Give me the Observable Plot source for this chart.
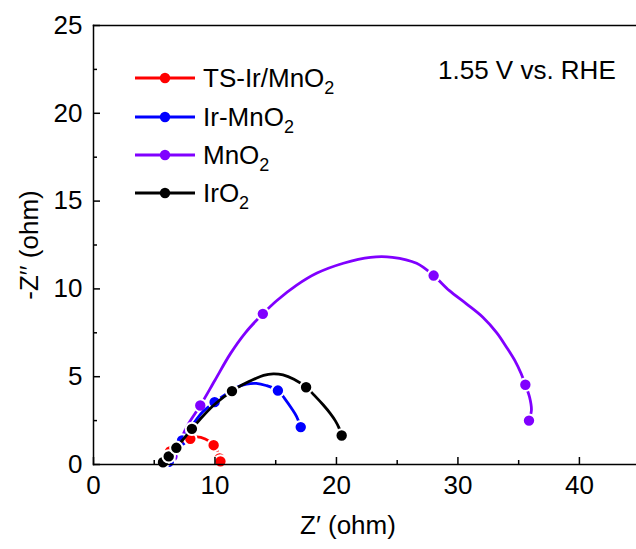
<!DOCTYPE html>
<html><head><meta charset="utf-8">
<script src="https://cdn.jsdelivr.net/npm/d3@7"></script>
<script src="https://cdn.jsdelivr.net/npm/@observablehq/plot@0.6"></script>
<style>
html,body{margin:0;padding:0;background:#fff;overflow:hidden}
#wrap{position:relative;width:636px;height:549px;font-family:"Liberation Sans",Arial,sans-serif;color:#000}
.lbl{position:absolute;white-space:nowrap;font-size:26px;line-height:1}
.lbl sub{font-size:18px;vertical-align:-7px;line-height:0}
.leg{position:absolute;left:135px;display:flex;align-items:center;height:26px}
.leg svg{margin-right:8px}
</style></head><body><div id="wrap"></div>
<script>
// series
const seriesNames = ["TS-Ir/MnO2", "Ir-MnO2", "MnO2", "IrO2"];
const seriesColors = ["#ff0000", "#0000ff", "#8000ff", "#000000"];
const annotationText = "1.55 V vs. RHE";
const xLabel = "Z\u2032 (ohm)";
const yLabel = "-Z\u2032\u2032 (ohm)";
const xTicks = [0, 10, 20, 30, 40];
const xMinorTicks = [5, 15, 25, 35];
const yTicks = [0, 5, 10, 15, 20, 25];
const yMinorTicks = [2.5, 7.5, 12.5, 17.5, 22.5];

// TS-Ir/MnO2
const tsZre = [5.95, 6.3, 6.9, 7.4, 7.97, 8.5, 9.2, 9.89, 10.2, 10.38, 10.45];
const tsZim = [0.05, 0.75, 1.15, 1.35, 1.46, 1.57, 1.45, 1.12, 0.75, 0.35, 0.18];
const tsMarkZre = [6.3, 7.97, 9.89, 10.38, 10.45];
const tsMarkZim = [0.75, 1.46, 1.1, 0.35, 0.18];
// Ir-MnO2
const irmZre = [6.0, 6.3, 6.7, 7.29, 8.2, 9.0, 9.97, 11.0, 11.8, 12.6, 13.4, 14.2, 15.18, 15.8, 16.3, 16.7, 17.06];
const irmZim = [0.0, 0.3, 0.75, 1.37, 2.3, 3.0, 3.55, 4.05, 4.4, 4.58, 4.62, 4.5, 4.21, 3.7, 3.2, 2.75, 2.13];
const irmMarkZre = [6.2, 7.29, 9.97, 15.18, 17.06];
const irmMarkZim = [0.15, 1.37, 3.55, 4.21, 2.13];
// MnO2
const mnZre = [6.1, 6.4, 6.8, 7.15, 7.8, 8.79, 10.0, 11.26, 12.5, 13.94, 15.1, 16.7, 18.4, 20.57, 22.8, 24.6, 26.6, 28.0, 29.3, 30.7, 32.05, 33.2, 34.0, 34.7, 35.2, 35.55, 35.9, 36.05, 35.85];
const mnZim = [0.0, 0.3, 0.8, 1.37, 2.3, 3.36, 4.8, 6.3, 7.5, 8.58, 9.34, 10.2, 10.9, 11.46, 11.8, 11.8, 11.46, 10.76, 9.9, 9.15, 8.39, 7.5, 6.68, 5.9, 5.18, 4.54, 3.83, 3.1, 2.5];
const mnMarkZre = [6.5, 8.79, 13.94, 28.0, 35.55, 35.85];
const mnMarkZim = [0.45, 3.36, 8.58, 10.76, 4.54, 2.5];
// IrO2
const iroZre = [5.72, 6.19, 6.82, 7.4, 8.1, 9.0, 10.1, 11.4, 12.3, 13.2, 14.0, 14.8, 15.6, 16.5, 17.5, 18.3, 18.9, 19.5, 19.9, 20.2, 20.43];
const iroZim = [0.13, 0.46, 0.95, 1.45, 2.03, 2.75, 3.5, 4.18, 4.55, 4.85, 5.08, 5.16, 5.1, 4.85, 4.4, 3.85, 3.4, 2.9, 2.5, 2.1, 1.65];
const iroMarkZre = [5.72, 6.19, 6.82, 8.1, 11.4, 17.5, 20.43];
const iroMarkZim = [0.13, 0.46, 0.95, 2.03, 4.18, 4.4, 1.65];

const lineSets = [[tsZre, tsZim], [irmZre, irmZim], [mnZre, mnZim], [iroZre, iroZim]];
const markSets = [[tsMarkZre, tsMarkZim], [irmMarkZre, irmMarkZim], [mnMarkZre, mnMarkZim], [iroMarkZre, iroMarkZim]];
const drawOrder = [2, 1, 0, 3];

const marks = [];
for (const i of drawOrder) {
  const [xs, ys] = lineSets[i];
  const line = xs.map((x, k) => ({x, y: ys[k]}));
  const [mx, my] = markSets[i];
  const pts = mx.map((x, k) => ({x, y: my[k]}));
  marks.push(Plot.line(line, {x: "x", y: "y", stroke: seriesColors[i], strokeWidth: 2.8, curve: "catmull-rom"}));
  marks.push(Plot.dot(pts, {x: "x", y: "y", r: 6.2, fill: seriesColors[i], stroke: "#fff", strokeWidth: 2}));
}

const chart = Plot.plot({
  width: 636, height: 549,
  marginLeft: 93, marginRight: 0, marginTop: 25, marginBottom: 85,
  style: {fontFamily: "Liberation Sans, Arial, sans-serif", fontSize: "26px", color: "#000", background: "#fff"},
  x: {domain: [0, 44.7]},
  y: {domain: [0, 25]},
  marks: [
    ...marks,
    Plot.frame({anchor: "top", strokeWidth: 1.5}),
    Plot.frame({anchor: "left", strokeWidth: 1.5}),
    Plot.frame({anchor: "bottom", strokeWidth: 1.5}),
    Plot.axisX({ticks: xTicks, tickSize: -7, tickFormat: () => "", label: null, strokeWidth: 1.5}),
    Plot.axisX({ticks: xMinorTicks, tickSize: -4, tickFormat: () => "", label: null, strokeWidth: 1.5}),
    Plot.axisX({ticks: xTicks, tickSize: 0, tickPadding: 11, label: null, fontSize: 26}),
    Plot.axisY({ticks: yTicks, tickSize: -7, tickFormat: () => "", label: null, strokeWidth: 1.5}),
    Plot.axisY({ticks: yMinorTicks, tickSize: -4, tickFormat: () => "", label: null, strokeWidth: 1.5}),
    Plot.axisY({ticks: yTicks, tickSize: 0, tickPadding: 11, label: null, fontSize: 26})
  ]
});

const wrap = document.getElementById("wrap");
wrap.appendChild(chart);

function sub(name) { return name.replace(/(\d)$/, "<sub>$1</sub>"); }

// axis titles
const xt = document.createElement("div");
xt.className = "lbl"; xt.textContent = xLabel;
xt.style.left = "300px"; xt.style.top = "512px";
wrap.appendChild(xt);
const yt = document.createElement("div");
yt.className = "lbl"; yt.textContent = yLabel;
yt.style.left = "29px"; yt.style.top = "245px";
yt.style.transform = "translate(-50%,-50%) rotate(-90deg)";
wrap.appendChild(yt);
// annotation
const an = document.createElement("div");
an.className = "lbl"; an.textContent = annotationText;
an.style.left = "438px"; an.style.top = "57px";
wrap.appendChild(an);
// legend
const rowY = [78, 117, 155, 193];
seriesNames.forEach((name, i) => {
  const d = document.createElement("div");
  d.className = "leg";
  d.style.top = (rowY[i] - 13) + "px";
  const c = seriesColors[i];
  d.innerHTML = `<svg width="60" height="26"><line x1="0" y1="13" x2="60" y2="13" stroke="${c}" stroke-width="2.8"/><circle cx="30" cy="13" r="5.2" fill="${c}"/></svg><span class="lbl" style="position:static">${sub(name)}</span>`;
  wrap.appendChild(d);
});
</script></body></html>
